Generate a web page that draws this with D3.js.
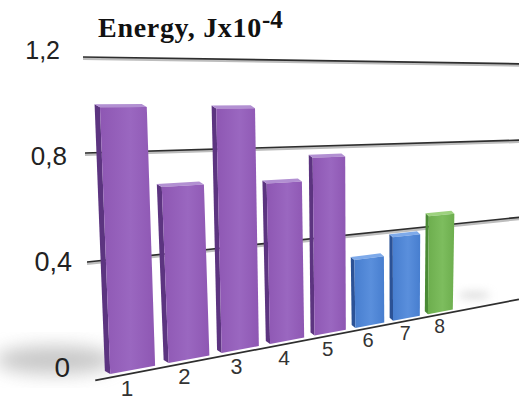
<!DOCTYPE html>
<html>
<head>
<meta charset="utf-8">
<script src="https://cdn.jsdelivr.net/npm/d3@7"></script>
<style>
  html, body { margin: 0; padding: 0; background: #fff; }
  svg { display: block; }
</style>
</head>
<body>
<svg id="chart" width="519" height="400"></svg>
<script>
// ---- data ----
const categories = ["1", "2", "3", "4", "5", "6", "7", "8"];
const energy     = [0.99, 0.66, 0.98, 0.65, 0.75, 0.29, 0.37, 0.45];
const groups     = ["a", "a", "a", "a", "a", "b", "b", "c"];
const tickValues = [0, 0.4, 0.8, 1.2];
const tickLabels = ["0", "0,4", "0,8", "1,2"];
const titleText  = "Energy, Jx10";
const titleExp   = "-4";

// ---- perspective layout ----
const svg = d3.select("#chart");
const pad = 0.24;

// category position along the (receding) floor, in bar-step units
const band = d3.scaleBand()
  .domain(categories)
  .range([0, categories.length - pad])
  .paddingInner(pad)
  .paddingOuter(0);

// foreshortening of the category axis: step units -> fraction of wall length
const recede = u => 0.036 + 0.1445 * u / (1 + 0.05 * u);

// wall edges: value -> screen position of the near (left) and far (right) end
const leftX  = d3.scaleLinear().domain(tickValues).range([95, 87, 85, 83]);
const leftY  = d3.scaleLinear().domain(tickValues).range([377, 262, 153, 57]);
const rightX = d3.scaleLinear().domain(tickValues).range([519, 522, 525, 528]);
const rightY = d3.scaleLinear().domain(tickValues).range([297, 217, 140, 64]);

function proj(v, s) {
  return [leftX(v) + (rightX(v) - leftX(v)) * s,
          leftY(v) + (rightY(v) - leftY(v)) * s];
}
// offset from a bar's front face to its back face
const depth = s => [-(5.5 - 3 * s), -3];
const add = (p, d) => [p[0] + d[0], p[1] + d[1]];

const colorFront = d3.scaleOrdinal().domain(["a", "b", "c"]).range(["#8e57b3", "#477ecf", "#6dae4e"]);
const colorLight = d3.scaleOrdinal().domain(["a", "b", "c"]).range(["#9a67c0", "#5a8fdc", "#7dbd5e"]);
const colorSide  = d3.scaleOrdinal().domain(["a", "b", "c"]).range(["#5c3480", "#2b5296", "#4a8a34"]);
const colorTop   = d3.scaleOrdinal().domain(["a", "b", "c"]).range(["#b290d2", "#7eaaea", "#9dd27e"]);

const defs = svg.append("defs");
defs.append("filter").attr("id", "soft").attr("x", "-50%").attr("y", "-50%")
  .attr("width", "200%").attr("height", "200%")
  .append("feGaussianBlur").attr("stdDeviation", 9);
defs.append("filter").attr("id", "soft2").attr("x", "-50%").attr("y", "-100%")
  .attr("width", "200%").attr("height", "300%")
  .append("feGaussianBlur").attr("stdDeviation", 4);
["a", "b", "c"].forEach(g => {
  const lg = defs.append("linearGradient").attr("id", "front-" + g)
    .attr("x1", 0).attr("y1", 0).attr("x2", 1).attr("y2", 0);
  lg.append("stop").attr("offset", 0).attr("stop-color", colorFront(g));
  lg.append("stop").attr("offset", 0.55).attr("stop-color", colorLight(g));
  lg.append("stop").attr("offset", 1).attr("stop-color", colorFront(g));
});

// ---- floor shadows ----
svg.append("ellipse").attr("cx", 55).attr("cy", 360).attr("rx", 60).attr("ry", 14)
  .attr("fill", "#9a9a9a").attr("opacity", 0.55).attr("filter", "url(#soft)");
{
  const p = proj(0.03, recede(band("8") + band.bandwidth()) + 0.05);
  svg.append("ellipse").attr("cx", p[0]).attr("cy", p[1] - 4).attr("rx", 16).attr("ry", 4)
    .attr("fill", "#c4c4c4").attr("opacity", 0.55).attr("filter", "url(#soft2)");
}

// ---- wall gridlines ----
const lineGen = d3.line();
const grid = svg.append("g");
tickValues.filter(v => v > 0).forEach(v => {
  const a = proj(v, 0), b = proj(v, 1);
  grid.append("path").attr("d", lineGen([add(a, [0, 1.4]), add(b, [0, 1.4])]))
    .attr("stroke", "#bdbdbd").attr("stroke-width", 3).attr("fill", "none");
  grid.append("path").attr("d", lineGen([a, b]))
    .attr("stroke", "#2e2e2e").attr("stroke-width", 1.7).attr("fill", "none");
});

// ---- value labels ----
const labelX = d3.scaleLinear().domain(tickValues).range([70, 72, 67, 60]);
const labelY = d3.scaleLinear().domain(tickValues).range([367, 262, 156, 50]);
const labelSize = d3.scaleLinear().domain([0, 1.2]).range([28, 25]);
svg.append("g").selectAll("text").data(tickValues).join("text")
  .attr("x", d => labelX(d))
  .attr("y", d => labelY(d))
  .attr("text-anchor", "end")
  .attr("dominant-baseline", "central")
  .attr("font-family", "'Liberation Sans', Arial, sans-serif")
  .attr("font-size", d => labelSize(d))
  .attr("fill", "#222")
  .text((d, i) => tickLabels[i]);

// ---- bars (far to near so nearer bars cover farther sides) ----
const bars = categories.map((c, i) => ({ c, v: energy[i], g: groups[i] }));
const barG = svg.append("g");
bars.slice().reverse().forEach(d => {
  const s0 = recede(band(d.c)), s1 = recede(band(d.c) + band.bandwidth());
  const bl = proj(0, s0), tl = proj(d.v, s0), tr = proj(d.v, s1), br = proj(0, s1);
  const d0 = depth(s0), d1 = depth(s1);
  const g = barG.append("g");
  g.append("path").attr("d", lineGen([bl, tl, add(tl, d0), add(bl, d0)]) + "Z")
    .attr("fill", colorSide(d.g));
  g.append("path").attr("d", lineGen([tl, tr, add(tr, d1), add(tl, d0)]) + "Z")
    .attr("fill", colorTop(d.g));
  g.append("path").attr("d", lineGen([bl, tl, tr, br]) + "Z")
    .attr("fill", `url(#front-${d.g})`);
});

// ---- front edge of the floor ----
svg.append("path").attr("d", lineGen([proj(-0.012, 0), proj(-0.012, 1)]))
  .attr("stroke", "#2e2e2e").attr("stroke-width", 1.7).attr("fill", "none");

// ---- category labels ----
svg.append("g").selectAll("text").data(bars).join("text")
  .each(function (d) {
    const s = recede(band(d.c) + band.bandwidth() / 2);
    const p = proj(-0.066, s);
    d3.select(this)
      .attr("x", p[0] - 8 + 9 * s).attr("y", p[1])
      .attr("font-size", 23 - 4.5 * s);
  })
  .attr("text-anchor", "middle")
  .attr("dominant-baseline", "central")
  .attr("font-family", "'Liberation Sans', Arial, sans-serif")
  .attr("fill", "#333")
  .text(d => d.c);

// ---- title ----
const title = svg.append("text")
  .attr("x", 98).attr("y", 37)
  .attr("font-family", "'Liberation Serif', 'Times New Roman', serif")
  .attr("font-weight", "bold")
  .attr("font-size", 28)
  .attr("letter-spacing", 0.7)
  .attr("fill", "#111");
title.append("tspan").text(titleText);
title.append("tspan").attr("dy", -9).attr("font-size", 25).attr("letter-spacing", 0).text(titleExp);
</script>
</body>
</html>
